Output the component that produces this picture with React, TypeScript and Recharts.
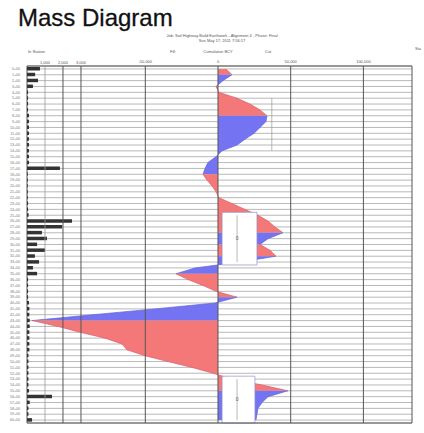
import React from 'react';
import {
  ComposedChart,
  Area,
  Bar,
  XAxis,
  YAxis,
  CartesianGrid,
  ReferenceLine,
  ReferenceArea,
} from 'recharts';

// Stations (rows, top to bottom)
const stations = [
  '0+00', '1+00', '2+00', '3+00', '4+00', '5+00', '6+00', '7+00', '8+00', '9+00',
  '10+00', '11+00', '12+00', '13+00', '14+00', '15+00', '16+00', '17+00', '18+00', '19+00',
  '20+00', '21+00', '22+00', '23+00', '24+00', '25+00', '26+00', '27+00', '28+00', '29+00',
  '30+00', '31+00', '32+00', '33+00', '34+00', '35+00', '36+00', '37+00', '38+00', '39+00',
  '40+00', '41+00', '42+00', '43+00', '44+00', '45+00', '46+00', '47+00', '48+00', '49+00',
  '50+00', '51+00', '52+00', '53+00', '54+00', '55+00', '56+00', '57+00', '58+00', '59+00',
  '60+00',
];

// Cumulative BCY (mass ordinate) at each station
const massBCY = [
  5500, 9600, 3400, -1400, 700, 13100, 22000, 28900, 33700, 33000,
  28900, 24800, 18600, 13100, 2800, -1400, -6900, -8900, -10300, -7600,
  -4100, -1400, 700, 9600, 18600, 27500, 34400, 39200, 44700, 34400,
  28900, 35800, 39900, 15100, -15800, -28900, -20600, -10300, -1400, 13100,
  -2100, -43300, -86000, -127900, -110000, -94900, -77700, -66000, -62600, -50200,
  -34400, -17900, -3400, 9600, 30300, 48100, 34400, 30300, 27500, 26800,
  26100,
];

// Station volume profile (BCY) drawn in the left panel
const profileBCY = [
  720, 450, 610, 330, 60, 60, 60, 60, 110, 110,
  110, 110, 110, 110, 110, 110, 110, 1830, 40, 40,
  40, 40, 40, 60, 60, 90, 2500, 1950, 830, 1110,
  560, 1000, 440, 670, 330, 560, 60, 60, 60, 60,
  110, 130, 130, 150, 150, 130, 130, 130, 130, 80,
  80, 80, 80, 80, 80, 110, 1390, 150, 80, 80,
  280,
];

const massTicks = [-50000, 0, 50000, 100000];
const profileTicks = [1000, 2000, 3000];
const profileTickLabels = ['1,000', '2,000', '3,000'];

// Balanced haul boxes: station range and BCY range
const hauls = [
  { from: '25+00', to: '33+00', lo: 2800, hi: 26800, mid: 13100 },
  { from: '53+00', to: '60+00', lo: 2800, hi: 25400, mid: 13100 },
];

const MASS_DOMAIN: [number, number] = [-131361, 133425];
const PROFILE_DOMAIN: [number, number] = [0, 21400];

const RED = '#f47878';
const BLUE = '#7474f2';

// Split the mass curve into monotone runs: rising = red, falling = blue
type Run = { start: number; end: number; dir: number };
const runs: Run[] = [];
{
  let cur: Run | null = null;
  for (let i = 1; i < massBCY.length; i++) {
    const d = massBCY[i] >= massBCY[i - 1] ? 1 : -1;
    if (cur && cur.dir === d) {
      cur.end = i;
    } else {
      cur = { start: i - 1, end: i, dir: d };
      runs.push(cur);
    }
  }
}

const data = stations.map((station, i) => {
  const row: Record<string, string | number | null> = {
    station,
    profile: profileBCY[i],
  };
  runs.forEach((r, k) => {
    row[`seg${k}`] = i >= r.start && i <= r.end ? massBCY[i] : null;
  });
  return row;
});

const fmt = (v: number) => (v === 0 ? '0' : v.toLocaleString('en-US'));

export default function App() {
  return (
    <div
      style={{
        position: 'absolute',
        left: 0,
        top: 0,
        width: 424,
        height: 433,
        background: '#fff',
        fontFamily: 'Liberation Sans, Arial, sans-serif',
      }}
    >
      <svg
        width={424}
        height={60}
        style={{ position: 'absolute', left: 0, top: 0 }}
      >
        <text x={18} y={26} fontSize={24} fill="#111" stroke="#111" strokeWidth={0.3} fontFamily="Liberation Sans, Arial, sans-serif">
          Mass Diagram
        </text>
        <text x={222} y={37} fontSize={4} fill="#555" textAnchor="middle">
          Job: Soil Highway Build Earthwork - Alignment 4 - Phase: Final
        </text>
        <text x={222} y={42} fontSize={4} fill="#555" textAnchor="middle">
          Sun May 17, 2011 7:56:17
        </text>
        <text x={28} y={53} fontSize={4} fill="#555">In Station</text>
        <text x={170} y={53} fontSize={4} fill="#555">Fill</text>
        <text x={218} y={53} fontSize={4} fill="#555" textAnchor="middle">Cumulative BCY</text>
        <text x={265} y={53} fontSize={4} fill="#555">Cut</text>
        <text x={415} y={50} fontSize={4} fill="#555">Sta</text>
      </svg>
      <div style={{ position: 'absolute', left: 0, top: 0 }}>
        <ComposedChart
          width={424}
          height={433}
          data={data}
          layout="vertical"
          margin={{ top: 56, right: 12, bottom: 10, left: 0 }}
          barCategoryGap={0}
        >
          <CartesianGrid vertical={false} stroke="#b0b0b0" strokeWidth={0.9} />
          <XAxis
            xAxisId="m"
            type="number"
            orientation="top"
            domain={MASS_DOMAIN}
            ticks={massTicks}
            tickFormatter={fmt}
            allowDataOverflow
            axisLine={false}
            tickLine={false}
            tickSize={1}
            height={10}
            tick={{ fontSize: 4, fill: '#555' }}
          />
          <XAxis
            xAxisId="p"
            type="number"
            orientation="top"
            domain={PROFILE_DOMAIN}
            allowDataOverflow
            hide
          />
          <YAxis
            type="category"
            dataKey="station"
            width={27}
            interval={0}
            axisLine={false}
            tickLine={false}
            tickMargin={1}
            tick={{ fontSize: 3.6, fill: '#777' }}
          />
          <Bar
            xAxisId="p"
            dataKey="profile"
            fill="#333"
            barSize={3.5}
            isAnimationActive={false}
          />
          {runs.map((r, k) => (
            <Area
              key={k}
              xAxisId="m"
              dataKey={`seg${k}`}
              type="linear"
              fill={r.dir > 0 ? RED : BLUE}
              fillOpacity={1}
              stroke={r.dir > 0 ? '#d85c70' : '#6262d8'}
              strokeWidth={0.7}
              dot={false}
              activeDot={false}
              connectNulls={false}
              isAnimationActive={false}
            />
          ))}
          {hauls.map((h, k) => (
            <ReferenceArea
              key={`h${k}`}
              xAxisId="m"
              x1={h.lo}
              x2={h.hi}
              y1={h.from}
              y2={h.to}
              fill="#ffffff"
              fillOpacity={1}
              stroke="#9090c8"
              strokeWidth={0.7}
              zIndex={150}
            />
          ))}
          {hauls.map((h, k) => (
            <ReferenceLine
              key={`hm${k}`}
              xAxisId="m"
              segment={[
                { x: h.mid, y: h.from },
                { x: h.mid, y: h.to },
              ]}
              stroke="#888"
              strokeWidth={0.6}
              label={{ value: '0', fontSize: 5, fill: '#555', position: 'center' }}
            />
          ))}
          <ReferenceLine
            xAxisId="m"
            segment={[
              { x: 37000, y: '5+00' },
              { x: 37000, y: '14+00' },
            ]}
            stroke="#888"
            strokeWidth={0.6}
          />
          {profileTicks.map((t, i) => (
            <ReferenceLine
              key={`p${t}`}
              xAxisId="p"
              x={t}
              stroke={i === 0 ? '#999' : '#555'}
              strokeWidth={i === 0 ? 0.8 : 1}
              label={{ value: profileTickLabels[i], position: 'top', fontSize: 4, fill: '#555', offset: 2 }}
            />
          ))}
          {massTicks.map((t) => (
            <ReferenceLine
              key={`m${t}`}
              xAxisId="m"
              x={t}
              stroke="#555"
              strokeWidth={1}
            />
          ))}
          <ReferenceArea
            xAxisId="m"
            x1={MASS_DOMAIN[0]}
            x2={MASS_DOMAIN[1]}
            y1={stations[0]}
            y2={stations[stations.length - 1]}
            fill="none"
            stroke="#555"
            strokeWidth={1}
            zIndex={160}
          />
        </ComposedChart>
      </div>
    </div>
  );
}
